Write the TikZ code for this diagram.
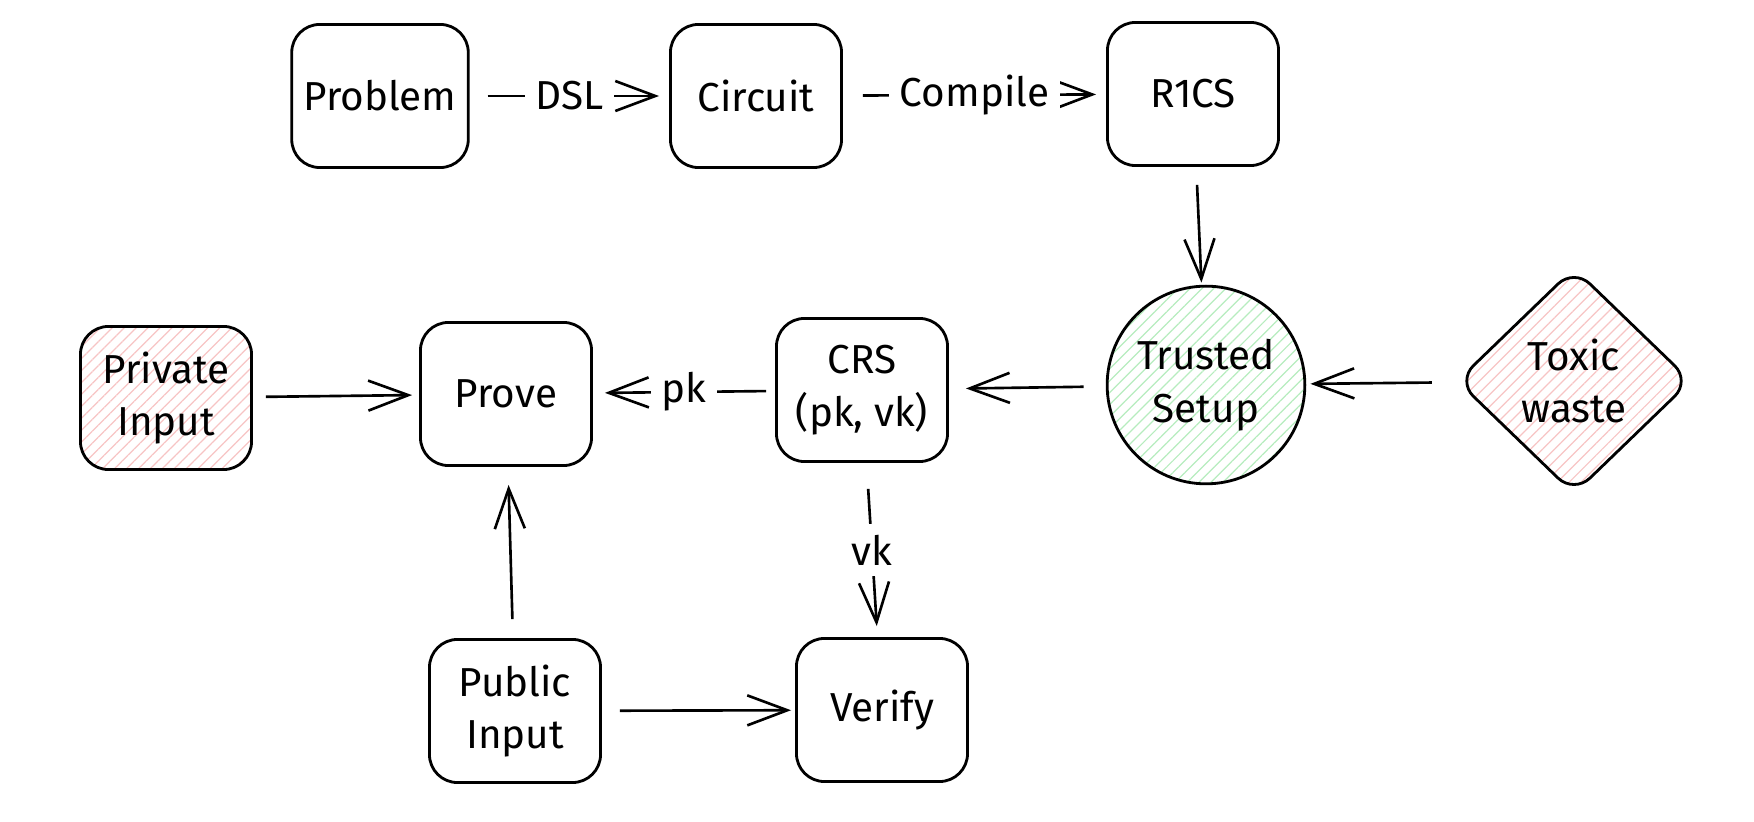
\documentclass[tikz,border=0pt]{standalone}
\usepackage{fontspec}
\setmainfont{Fira Sans}
\usepackage{tikz}
\usetikzlibrary{arrows.meta, shapes.geometric, patterns.meta, positioning}
\definecolor{hatchred}{HTML}{F7C4C4}
\definecolor{hatchgreen}{HTML}{B6ECBE}

\begin{document}
\begin{tikzpicture}[x=0.01cm, y=-0.01cm]
\tikzset{
    box/.style={draw, line width=0.8pt, rounded corners=0.28cm,
        minimum width=1.71cm, minimum height=1.43cm, align=center,
        font=\fontsize{11.5}{15}\selectfont},
    redhatch/.style={pattern={Lines[angle=45,distance=2.4pt,line width=0.35pt]},
        pattern color=hatchred},
    greenhatch/.style={pattern={Lines[angle=45,distance=2.4pt,line width=0.35pt]},
        pattern color=hatchgreen},
    arr/.style={line width=0.75pt, -{Straight Barb[length=4mm,width=3mm]},
        shorten <=0.18cm, shorten >=0.1cm},
    lbl/.style={fill=white, inner sep=3pt, font=\fontsize{11.5}{15}\selectfont}
}
\useasboundingbox (0,0) rectangle (1754,822);

% Nodes
\node[box] (problem) at (380,96){Problem};
\node[box] (circuit) at (756,96){Circuit};
\node[box] (rics) at (1193,94){R1CS};
\node[box, circle, minimum size=1.94cm, greenhatch] (setup) at (1206,385){Trusted\\Setup};
\node[box, diamond, minimum width=2.34cm, minimum height=2.26cm, inner sep=0pt,
      rounded corners=0.22cm, redhatch] (toxic) at (1574,381){Toxic\\waste};
\node[box] (crs) at (862,390){CRS\\(pk, vk)};
\node[box] (prove) at (506,394){Prove};
\node[box, redhatch] (priv) at (166,398){Private\\Input};
\node[box] (pub) at (515,711){Public\\Input};
\node[box] (verify) at (882,710){Verify};

% Arrows
\draw[arr] (problem) -- (circuit) node[lbl, midway]{DSL};
\draw[arr, shorten <=0.2cm] (circuit) -- (rics) node[lbl, midway]{Compile};
\draw[arr, shorten >=0.03cm] (rics) -- (setup);
\draw[arr, shorten <=0.25cm, shorten >=0.05cm] (toxic) -- (setup);
\draw[arr, shorten <=0.23cm, shorten >=0.17cm] (setup) -- (crs);
\draw[arr, shorten <=0.09cm, shorten >=0.12cm] (crs) -- (prove) node[lbl, midway]{pk};
\draw[arr, shorten <=0.13cm, shorten >=0.07cm] (priv) -- (prove);
\draw[arr, shorten <=0.19cm, shorten >=0.18cm] (pub) -- (prove);
\draw[arr, shorten <=0.26cm, shorten >=0.11cm] (crs) -- (verify) node[lbl, midway]{vk};
\draw[arr, shorten >=0.04cm] (pub) -- (verify);

\end{tikzpicture}
\end{document}
